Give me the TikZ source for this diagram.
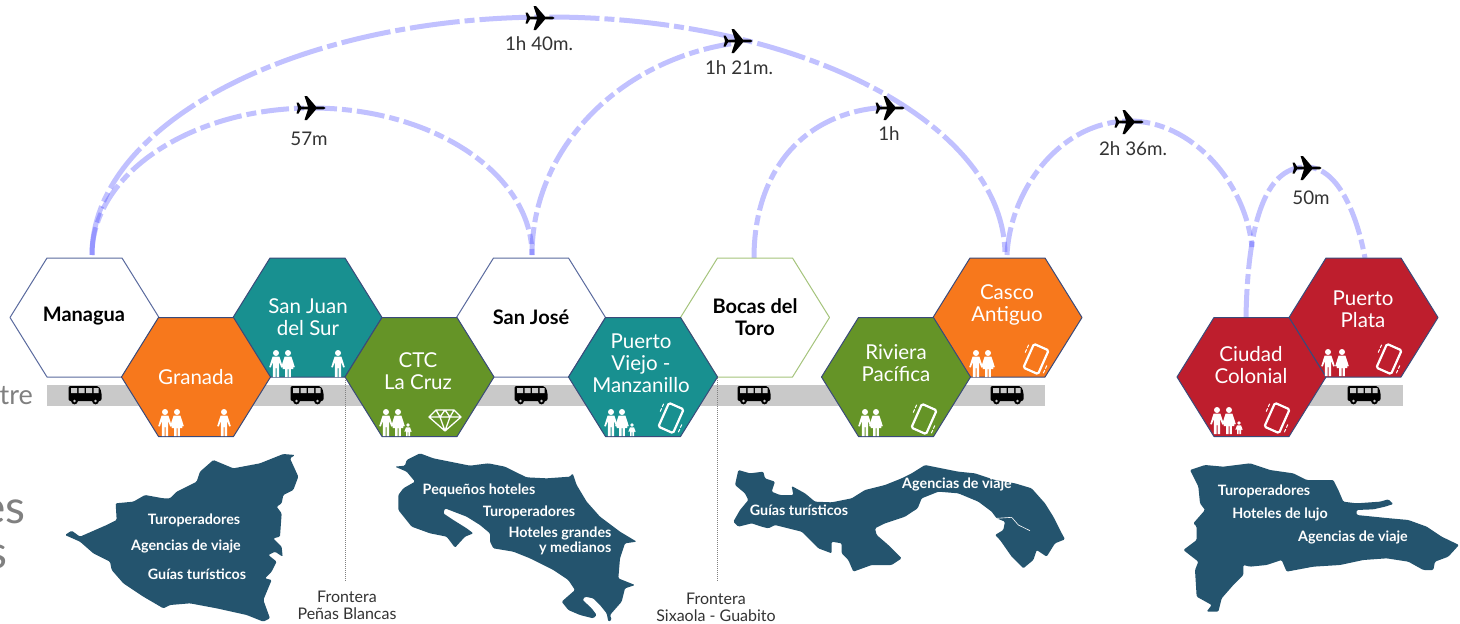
\documentclass[tikz,border=0pt]{standalone}
\usepackage{fontspec}
\setmainfont{Lato}
\definecolor{hexorange}{HTML}{F7781C}
\definecolor{hexteal}{HTML}{189090}
\definecolor{hexgreen}{HTML}{659427}
\definecolor{hexred}{HTML}{BE1E2D}
\definecolor{mapblue}{HTML}{24546E}
\definecolor{edgeblue}{HTML}{5A6A9E}
\definecolor{edgedark}{HTML}{3A4A7A}
\definecolor{edgegreen}{HTML}{A5C47C}
\definecolor{strip}{HTML}{C9C9C9}
\definecolor{flightblue}{HTML}{3333FF}
\definecolor{inktext}{HTML}{333333}
\tikzset{
  hexbase/.style={line width=1pt,line join=round},
  hexwhite/.style={hexbase,fill=white,draw=edgeblue},
  hexwhiteg/.style={hexbase,fill=white,draw=edgegreen},
  hexor/.style={hexbase,fill=hexorange,draw=edgedark},
  hextl/.style={hexbase,fill=hexteal,draw=edgedark},
  hexgr/.style={hexbase,fill=hexgreen,draw=edgedark},
  hexrd/.style={hexbase,fill=hexred,draw=edgedark},
  citydark/.style={align=center,inner sep=0pt,text=black,font=\fontsize{20}{22}\selectfont\bfseries},
  citylight/.style={align=center,inner sep=0pt,text=white,font=\fontsize{20.5}{22}\selectfont},
  maplabel/.style={align=center,inner sep=0pt,text=white,font=\fontsize{14.3}{15}\selectfont\bfseries},
  timelabel/.style={inner sep=0pt,text=inktext,font=\fontsize{18.8}{20}\selectfont},
  borderlabel/.style={align=center,inner sep=0pt,text=inktext,font=\fontsize{16}{17}\selectfont},
  sidelabel/.style={inner sep=0pt,anchor=east,text=gray},
  flight/.style={draw=flightblue,opacity=.3,line width=5pt,dash pattern=on 28pt off 5pt on 10pt off 5pt},
  flightlong/.style={flight,dash pattern=on 50pt off 5pt on 10pt off 5pt},
  borderline/.style={draw=gray,line width=1pt,dash pattern=on 1pt off 1pt},
  mapshape/.style={fill=mapblue,draw=none,rounded corners=1.2pt},
  man/.pic={
    \fill[white] (0,-24) circle (3);
    \fill[white] (-3.4,-20.5)--(3.4,-20.5)--(6.8,-10)--(5.2,-9.5)--(3.2,-15)--(3.2,0)--(.5,0)--(.5,-9)--(-.5,-9)--(-.5,0)--(-3.2,0)--(-3.2,-15)--(-5.2,-9.5)--(-6.8,-10)--cycle;
  },
  woman/.pic={
    \fill[white] (0,-24) circle (3);
    \fill[white] (-3.4,-20.5)--(3.4,-20.5)--(6.8,-10)--(5.2,-9.5)--(3.7,-14)--(5.4,-8)--(2.8,-8)--(2.8,0)--(.5,0)--(.5,-8)--(-.5,-8)--(-.5,0)--(-2.8,0)--(-2.8,-8)--(-5.4,-8)--(-3.7,-14)--(-5.2,-9.5)--(-6.8,-10)--cycle;
  },
  kid/.pic={
    \fill[white] (0,-11) circle (1.9);
    \fill[white] (-2,-8.7)--(2,-8.7)--(3.6,-4.5)--(2.6,-4)--(2,-6)--(2,0)--(.4,0)--(.4,-4)--(-.4,-4)--(-.4,0)--(-2,0)--(-2,-6)--(-2.6,-4)--(-3.6,-4.5)--cycle;
  },
  phone/.pic={
    \begin{scope}[rotate=-24]
    \draw[white,line width=2.2pt,rounded corners=1.5pt] (-8,-13) rectangle (8,13);
    \draw[white,line width=1pt] (-12.5,-10)--(-12.5,-6.5) (-12.5,-5)--(-12.5,-1.5) (12.5,1.5)--(12.5,5) (12.5,6.5)--(12.5,10);
    \end{scope}
  },
  gem/.pic={
    \draw[white,line width=1.3pt,line join=round] (-9,-10)--(9,-10)--(16,-3)--(0,11)--(-16,-3)--cycle (-16,-3)--(16,-3) (-9,-10)--(-5,-3)--(0,11)--(5,-3)--(9,-10) (-5,-3)--(0,-10)--(5,-3);
  },
  bus/.pic={
    \fill[black,rounded corners=2pt] (-16.5,-9)--(14,-9)--(16.5,-3)--(16.5,6)--(-16.5,6)--cycle;
    \fill[strip] (-14,-7) rectangle (-8,-2) (-6.5,-7) rectangle (-.5,-2) (1,-7) rectangle (7,-2) (8.5,-7) rectangle (13.5,-2);
    \fill[black] (-10.5,6) circle (3.4) (10.5,6) circle (3.4);
    \fill[strip] (-10.5,6) circle (1.3) (10.5,6) circle (1.3);
  },
  plane/.pic={
    \fill[black] (14.5,0)--(12.5,-1.4)--(5,-1.4)--(-4,-12)--(-6.5,-12)--(-3,-1.4)--(-10,-1.4)--(-12.5,-5.5)--(-14.5,-5.5)--(-13,0)--(-14.5,5.5)--(-12.5,5.5)--(-10,1.4)--(-3,1.4)--(-6.5,12)--(-4,12)--(5,1.4)--(12.5,1.4)--cycle;
  }
}
\newcommand{\hexa}[3]{\draw[#3,shift={(#1,#2)}] (-74.5,0)--(-37.5,-59.5)--(37.5,-59.5)--(74.5,0)--(37.5,59.5)--(-37.5,59.5)--cycle;}
\begin{document}
\begin{tikzpicture}[x=1pt,y=-1pt]
\useasboundingbox (0,0) rectangle (1460,624);
\fill[white] (0,0) rectangle (1460,624);

% strips
\fill[strip] (47,385) rectangle (1045,406);
\fill[strip] (1300,385) rectangle (1403,406);

% maps
\begin{scope}[shift={(0,250)},x=.33333pt,y=-.33333pt]
\fill[mapshape] (195,855)--(215,842)--(240,860)--(320,825)--(350,810)--(347,760)--(400,755)--(435,735)--(490,745)--(510,745)--(530,725)--(590,695)--(600,665)--(640,630)--(700,655)--(780,640)--(850,612)--(885,615)--(870,625)--(895,680)--(880,720)--(850,735)--(845,760)--(830,770)--(845,790)--(840,860)--(820,865)--(845,890)--(848,920)--(825,905)--(805,915)--(830,935)--(815,965)--(795,985)--(815,990)--(790,1050)--(810,1105)--(790,1115)--(740,1095)--(650,1075)--(570,1060)--(510,1065)--(490,1075)--(430,1040)--(370,1000)--(335,960)--(330,935)--(280,910)--(240,875)--cycle;
\end{scope}
\begin{scope}[shift={(390,445)},x=.33333pt,y=-.33333pt]
\fill[mapshape] (15,65)--(45,62)--(50,45)--(90,25)--(130,40)--(190,52)--(240,62)--(295,55)--(345,65)--(385,85)--(410,97)--(470,100)--(540,95)--(548,85)--(560,120)--(590,170)--(630,215)--(690,260)--(740,290)--(705,295)--(690,340)--(685,400)--(735,420)--(705,430)--(695,470)--(660,510)--(665,525)--(655,530)--(650,505)--(630,480)--(610,460)--(585,455)--(578,465)--(605,490)--(620,510)--(610,520)--(570,510)--(535,495)--(515,470)--(555,435)--(535,405)--(490,375)--(420,340)--(370,320)--(310,310)--(300,290)--(300,265)--(270,240)--(230,215)--(165,190)--(160,205)--(190,225)--(230,250)--(250,265)--(225,275)--(195,308)--(170,275)--(120,265)--(65,245)--(25,195)--(25,150)--(40,130)--(75,110)--(50,80)--cycle;
\end{scope}
\begin{scope}[shift={(725,460)},x=.33333pt,y=-.33333pt]
\fill[mapshape] (25,185)--(45,150)--(70,120)--(60,100)--(30,75)--(40,30)--(75,40)--(115,35)--(120,55)--(150,65)--(140,95)--(165,105)--(205,105)--(200,78)--(240,100)--(270,125)--(320,127)--(380,115)--(420,90)--(480,75)--(530,55)--(560,40)--(600,15)--(650,25)--(700,35)--(750,40)--(810,60)--(870,70)--(920,85)--(960,130)--(985,170)--(1005,210)--(1020,238)--(990,250)--(965,290)--(935,270)--(925,300)--(895,325)--(860,290)--(825,240)--(810,225)--(835,210)--(840,185)--(815,175)--(800,155)--(760,125)--(700,100)--(640,95)--(590,115)--(578,145)--(540,170)--(480,190)--(450,205)--(455,225)--(490,255)--(530,295)--(500,315)--(440,315)--(385,335)--(370,300)--(350,280)--(350,250)--(320,245)--(320,280)--(280,265)--(255,240)--(230,215)--(190,205)--(150,195)--(130,205)--(110,200)--(80,190)--(40,200)--cycle;
\draw[white,line width=.6pt] (815,175)--(860,172)--(880,195)--(915,212);
\end{scope}
\begin{scope}[shift={(1080,250)},x=.33333pt,y=-.33333pt]
\fill[mapshape] (330,660)--(375,645)--(430,650)--(510,640)--(570,660)--(640,670)--(680,690)--(760,690)--(775,720)--(790,755)--(830,760)--(900,755)--(925,748)--(940,762)--(915,770)--(880,778)--(830,780)--(830,795)--(880,800)--(930,805)--(985,810)--(1040,830)--(1085,860)--(1137,885)--(1105,920)--(1065,935)--(1060,960)--(1030,960)--(985,935)--(920,925)--(850,930)--(780,945)--(700,950)--(620,965)--(605,930)--(560,945)--(510,950)--(490,945)--(490,975)--(460,1005)--(425,1045)--(415,1085)--(380,1085)--(395,1065)--(350,1040)--(345,960)--(355,935)--(310,900)--(350,870)--(350,830)--(340,820)--(375,780)--(360,760)--(355,710)--cycle;
\end{scope}

% flight arcs
\coordinate (mgStart) at (92,255);
\coordinate (sjEnd) at (532,255);
\coordinate (cascoEnd) at (1005,255);
\coordinate (bocasStart) at (754,258);
\coordinate (planeHora) at (895,107);
\coordinate (planeOchenta) at (736,43);
\coordinate (cascoStart) at (1007,255);
\coordinate (ciudadTop) at (1252,247);
\coordinate (ciudadStart) at (1246,317);
\coordinate (plataTop) at (1365,258);
\draw[flightlong] (mgStart) .. controls (92,124) and (296,17) .. (548.5,17) .. controls (801,17) and (1005,124) .. (cascoEnd);
\draw[flight] (mgStart) .. controls (92,174) and (191,108) .. (312,108) .. controls (433,108) and (532,174) .. (sjEnd);
\draw[flight] (sjEnd) .. controls (532,148) and (620,59) .. (planeOchenta);
\draw[flight] (bocasStart) .. controls (754,165) and (810,107) .. (planeHora);
\draw[flight] (cascoStart) .. controls (1010,190) and (1060,121) .. (1130,121) .. controls (1190,121) and (1245,180) .. (ciudadTop);
\draw[flight] (ciudadStart) .. controls (1248,210) and (1270,167) .. (1306,167) .. controls (1340,167) and (1358,220) .. (plataTop);

% hexagons
\hexa{84.5}{317.5}{hexwhite}
\hexa{307.5}{317.5}{hextl}
\hexa{531}{317.5}{hexwhite}
\hexa{755}{317.5}{hexwhiteg}
\hexa{1007.5}{317.5}{hexor}
\hexa{1363.5}{317.5}{hexrd}
\hexa{196}{377}{hexor}
\hexa{419.5}{377}{hexgr}
\hexa{643}{377}{hextl}
\hexa{896}{377}{hexgr}
\hexa{1251.5}{377}{hexrd}

% border lines
\coordinate (borderAtop) at (345,378);
\coordinate (borderAend) at (345,582);
\coordinate (borderBtop) at (717,378);
\coordinate (borderBend) at (717,582);
\draw[borderline] (borderAtop) -- (borderAend);
\draw[borderline] (borderBtop) -- (borderBend);

% buses
\pic at (85,395) {bus};
\pic at (307,395) {bus};
\pic at (531,395) {bus};
\pic at (754,395) {bus};
\pic at (1007,395) {bus};
\pic at (1364,395) {bus};

% people and symbols
\pic at (165,436) {man}; \pic at (177,436) {woman}; \pic at (224,436) {man};
\pic at (276,377) {man}; \pic at (288,377) {woman}; \pic at (338,377) {man};
\pic at (386,436) {man}; \pic at (398,436) {woman}; \pic at (408,436) {kid}; \pic at (445,420) {gem};
\pic at (611,436) {man}; \pic at (622,436) {woman}; \pic at (632,436) {kid}; \pic at (671,418) {phone};
\pic at (865,436) {man}; \pic at (876,436) {woman}; \pic at (924,419) {phone};
\pic at (976,377) {man}; \pic at (988,377) {woman}; \pic at (1036,359) {phone};
\pic at (1217,434) {man}; \pic at (1229,434) {woman}; \pic at (1239,434) {kid}; \pic at (1277,418) {phone};
\pic at (1328,376) {man}; \pic at (1342,376) {woman}; \pic at (1389,359) {phone};

% planes
\pic at (311,108) {plane};
\pic at (540,18) {plane};
\pic at (738,41) {plane};
\pic at (890,108) {plane};
\pic at (1129,122) {plane};
\pic at (1307,168) {plane};

% city labels
\node[citydark] (managua) at (84,316) {Managua};
\node[citylight] (granada) at (196,377) {Granada};
\node[citylight] (sanjuan) at (308,317) {San Juan\\del Sur};
\node[citylight] (lacruz) at (418,371) {CTC\\La Cruz};
\node[citydark] (sanjose) at (531,317) {San José};
\node[citylight] (viejo) at (641,363) {Puerto\\Viejo -\\Manzanillo};
\node[citydark] (bocas) at (755,317) {Bocas del\\Toro};
\node[citylight] (riviera) at (896,363) {Riviera\\Pacífica};
\node[citylight] (casco) at (1007,305) {Casco\\Antiguo};
\node[citylight] (ciudad) at (1251,365) {Ciudad\\Colonial};
\node[citylight] (plata) at (1363,309) {Puerto\\Plata};

% flight times
\node[timelabel] (t1) at (539,44) {1h 40m.};
\node[timelabel] (t2) at (739,68) {1h 21m.};
\node[timelabel] (t3) at (309,139) {57m};
\node[timelabel] (t4) at (889,134) {1h};
\node[timelabel] (t5) at (1133,149) {2h 36m.};
\node[timelabel] (t6) at (1311,198) {50m};

% map labels
\node[maplabel] (n1) at (194,520) {Turoperadores};
\node[maplabel] (n2) at (186,546) {Agencias de viaje};
\node[maplabel] (n3) at (197,574) {Guías turísticos};
\node[maplabel] (c1) at (479,490) {Pequeños hoteles};
\node[maplabel] (c2) at (529,512) {Turoperadores};
\node[maplabel,align=right] (c3) at (560,540.5) {Hoteles grandes\\y medianos};
\node[maplabel] (p1) at (799,510) {Guías turísticos};
\node[maplabel] (p2) at (957,484) {Agencias de viaje};
\node[maplabel] (d1) at (1264,491) {Turoperadores};
\node[maplabel] (d2) at (1280,514) {Hoteles de lujo};
\node[maplabel] (d3) at (1353,537) {Agencias de viaje};

% border labels
\node[borderlabel] (fa) at (347,605) {Frontera\\Peñas Blancas};
\node[borderlabel] (fb) at (716,607) {Frontera\\Sixaola - Guabito};

% side fragments
\node[sidelabel,font=\fontsize{27}{30}\selectfont] (s1) at (33,396) {tre};
\node[sidelabel,font=\fontsize{46}{50}\selectfont] (s2) at (26,512) {es};
\node[sidelabel,font=\fontsize{46}{50}\selectfont] (s3) at (8,557) {s};
\end{tikzpicture}
\end{document}
